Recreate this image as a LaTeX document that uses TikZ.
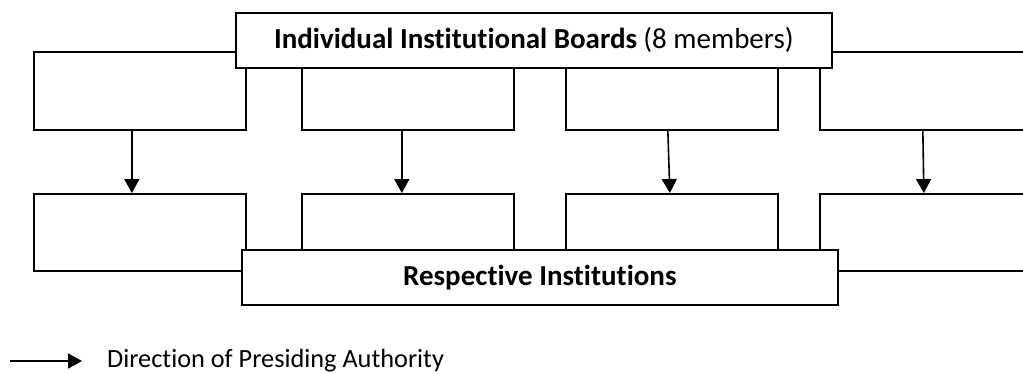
\documentclass[tikz,border=0pt]{standalone}
\usepackage{fontspec}
\setmainfont[Ligatures={NoCommon}]{Carlito}
\usetikzlibrary{arrows.meta}
\begin{document}
\begin{tikzpicture}[x=1pt,y=-1pt,
  box/.style={draw=black,line width=1.7pt,fill=white,inner sep=0pt,anchor=north west},
  arr/.style={line width=1.6pt,-{Triangle[length=14pt,width=15pt]}},
  lbl/.style={font=\fontsize{29}{33}\selectfont},
  leg/.style={font=\fontsize{26.3}{30}\selectfont}]
\useasboundingbox (0,0) rectangle (1023,373);
% upper row
\node[box,minimum width=212pt,minimum height=78pt] (u1) at (33,51) {};
\node[box,minimum width=212pt,minimum height=78pt] (u2) at (301,51) {};
\node[box,minimum width=212pt,minimum height=78pt] (u3) at (565,51) {};
\node[box,minimum width=212pt,minimum height=78pt] (u4) at (819,51) {};
% lower row
\node[box,minimum width=212pt,minimum height=77pt] (l1) at (33,193) {};
\node[box,minimum width=212pt,minimum height=77pt] (l2) at (301,193) {};
\node[box,minimum width=212pt,minimum height=77pt] (l3) at (565,193) {};
\node[box,minimum width=212pt,minimum height=77pt] (l4) at (819,193) {};
% title boxes
\node[box,lbl,minimum width=596pt,minimum height=55pt] (top) at (235,12) {\textbf{Individual Institutional Boards} (8 members)};
\node[box,lbl,minimum width=596pt,minimum height=55pt] (bot) at (241,249) {\textbf{Respective Institutions}};
% arrows
\draw[arr] ([xshift=-8pt]u1.south) -- ([xshift=-8pt]l1.north);
\draw[arr] ([xshift=-6pt]u2.south) -- ([xshift=-6pt]l2.north);
\draw[arr] ([xshift=-4pt]u3.south) -- ([xshift=-2pt]l3.north);
\draw[arr] ([xshift=-3pt]u4.south) -- ([xshift=-2pt]l4.north);
% legend
\coordinate (ls) at (10,361);
\node[leg,anchor=west,inner sep=0pt] (legend) at (107,361) {Direction of Presiding Authority};
\draw[arr] (ls) -- ([xshift=-25pt]legend.west);
\end{tikzpicture}
\end{document}
